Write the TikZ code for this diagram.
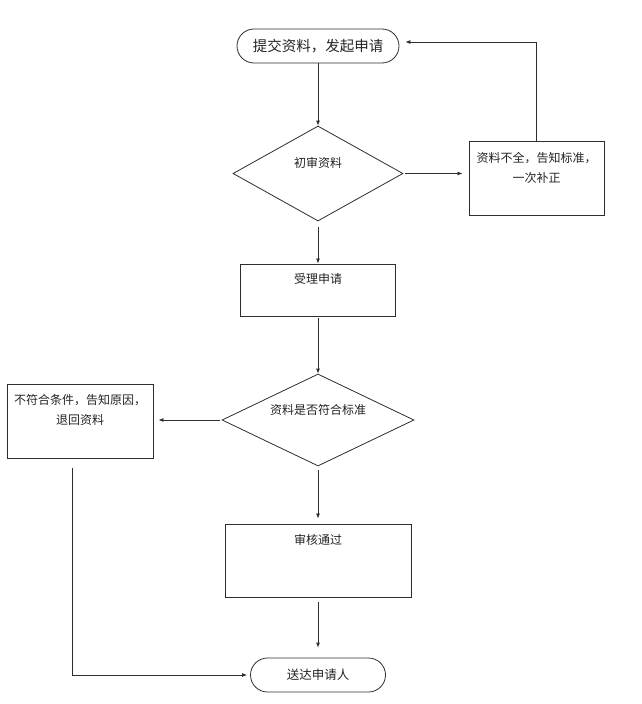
\documentclass[tikz,border=0pt]{standalone}
\usepackage{fontspec}
\newfontfamily\cjk{Noto Sans CJK SC}
\usetikzlibrary{arrows.meta,shapes.geometric,shapes.misc}
\definecolor{lineInk}{RGB}{45,45,45}
\definecolor{textInk}{RGB}{35,35,35}

\begin{document}
\begin{tikzpicture}[x=1pt,y=-1pt,
  every node/.style={font=\cjk\fontsize{12}{20}\selectfont,text=textInk},
  terminal/.style={rounded rectangle,draw=lineInk,line width=0.8pt,minimum height=34pt,inner sep=0pt},
  decision/.style={diamond,draw=lineInk,line width=0.8pt,inner sep=0pt},
  procbox/.style={rectangle,draw=lineInk,line width=0.9pt,inner sep=0pt},
  boxtext/.style={anchor=north,align=center,inner sep=0pt,yshift=#1},
  boxtext/.default=-10.5pt,
  flow/.style={draw=lineInk,line width=0.8pt,-{Latex[length=5pt,width=4pt]}}]
\useasboundingbox (0,0) rectangle (642,704);
% main column
\node[terminal,minimum width=162pt,font=\cjk\fontsize{14.5}{16}\selectfont] (submit) at (318,46) {提交资料，发起申请};
\node[decision,minimum width=170pt,minimum height=95pt,label={[boxtext=-31.5pt]north:初审资料}] (firstcheck) at (318,173.5) {};
\node[procbox,minimum width=155pt,minimum height=52pt,label={[boxtext=-9.5pt]north:受理申请}] (accept) at (318,290) {};
\node[decision,minimum width=192pt,minimum height=92pt,label={[boxtext=-30.5pt]north:资料是否符合标准}] (check2) at (318,420) {};
\node[procbox,minimum width=186pt,minimum height=73pt,label={[boxtext]north:审核通过}] (approve) at (318,560.5) {};
\node[terminal,minimum width=135pt,font=\cjk\fontsize{12.5}{16}\selectfont] (finish) at (318,675) {送达申请人};
% side boxes
\node[procbox,minimum width=135pt,minimum height=74pt,label={[boxtext=-11.5pt]north:资料不全，告知标准，\\一次补正}] (incomplete) at (536.5,178) {};
\node[procbox,minimum width=146pt,minimum height=74pt,label={[boxtext]north:不符合条件，告知原因，\\退回资料}] (reject) at (80,421) {};

\draw[flow] (submit.south) -- (firstcheck.north);
\draw[flow,shorten <=2pt,shorten >=6pt] (firstcheck.east) -- (firstcheck.east -| incomplete.west);
\draw[flow,shorten >=6pt] (incomplete.north) |- ([yshift=4pt]submit.east);
\draw[flow,shorten <=6pt] (firstcheck.south) -- (accept.north);
\draw[flow,shorten <=2pt] (accept.south) -- (check2.north);
\draw[flow,shorten <=2pt,shorten >=5pt] (check2.west) -- (check2.west -| reject.east);
\draw[flow,shorten <=10pt,shorten >=3pt] ([xshift=-8pt]reject.south) |- (finish.west);
\draw[flow,shorten <=4pt,shorten >=5pt] (check2.south) -- (approve.north);
\draw[flow,shorten <=5pt,shorten >=10pt] (approve.south) -- (finish.north);
\end{tikzpicture}
\end{document}
